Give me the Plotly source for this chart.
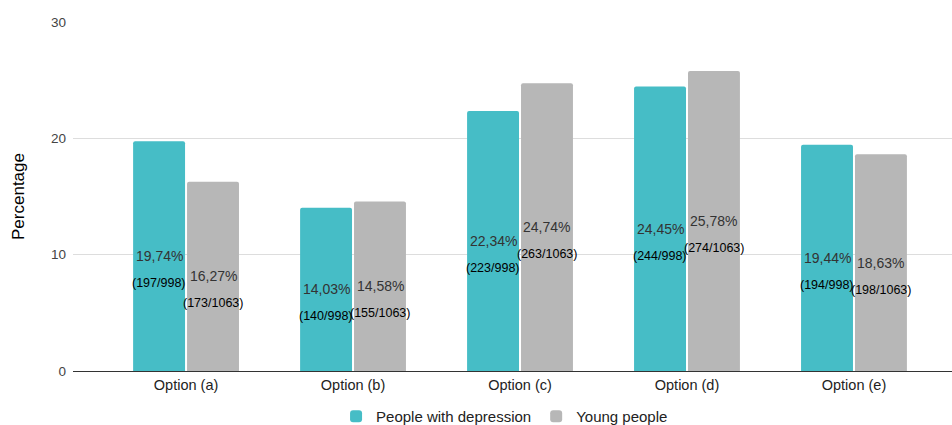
import plotly.graph_objects as go

categories = ["Option (a)", "Option (b)", "Option (c)", "Option (d)", "Option (e)"]
depression_pct = [19.74, 14.03, 22.34, 24.45, 19.44]
young_pct = [16.27, 14.58, 24.74, 25.78, 18.63]
depression_counts = ["(197/998)", "(140/998)", "(223/998)", "(244/998)", "(194/998)"]
young_counts = ["(173/1063)", "(155/1063)", "(263/1063)", "(274/1063)", "(198/1063)"]
y_ticks = [0, 10, 20, 30]

TEAL = "#46BDC6"
GREY = "#B7B7B7"
FONT = "Arial, Liberation Sans, sans-serif"
BAR_W = 0.311
GAP = 0.006

xs = list(range(len(categories)))

fig = go.Figure()
fig.add_trace(go.Bar(
    x=xs, y=depression_pct, name="People with depression",
    marker=dict(color=TEAL, line=dict(width=0), cornerradius=2),
    width=BAR_W, offset=-BAR_W - GAP, hoverinfo="skip",
))
fig.add_trace(go.Bar(
    x=xs, y=young_pct, name="Young people",
    marker=dict(color=GREY, line=dict(width=0), cornerradius=2),
    width=BAR_W, offset=GAP, hoverinfo="skip",
))


def fmt(v):
    return f"{v:.2f}".replace(".", ",") + "%"


annotations = []
for i in xs:
    for vals, counts, sign in ((depression_pct, depression_counts, -1),
                               (young_pct, young_counts, 1)):
        v = vals[i]
        cx = i + sign * (BAR_W / 2 + GAP)
        annotations.append(dict(
            x=cx, y=v / 2, xref="x", yref="y", text=fmt(v), showarrow=False,
            font=dict(family=FONT, size=14, color="#333333"),
        ))
        annotations.append(dict(
            x=cx, y=v / 2, xref="x", yref="y", text=counts[i], showarrow=False,
            yshift=-27, font=dict(family=FONT, size=12.5, color="#000000"),
        ))

fig.update_layout(
    width=952, height=425,
    margin=dict(l=73, r=0, t=22, b=54),
    plot_bgcolor="white", paper_bgcolor="white",
    barmode="overlay",
    font=dict(family=FONT, color="#333333"),
    showlegend=True,
    legend=dict(
        orientation="h", x=0.53, xanchor="center", xref="container",
        y=0.02, yanchor="middle", yref="container",
        font=dict(family=FONT, size=15, color="#222222"),
        itemwidth=30, traceorder="normal", tracegroupgap=0,
    ),
    annotations=annotations,
)
fig.update_xaxes(
    range=[-0.677, 4.587],
    tickvals=xs, ticktext=categories,
    tickfont=dict(family=FONT, size=14.5, color="#222222"),
    showgrid=False, ticks="", showline=False, zeroline=False,
    ticklabelstandoff=3,
)
fig.update_yaxes(
    range=[0, 30], tickvals=y_ticks,
    tickfont=dict(family=FONT, size=13.5, color="#444444"),
    showgrid=True, gridcolor="#DDDDDD", gridwidth=1,
    zeroline=True, zerolinecolor="#333333", zerolinewidth=1,
    title=dict(text="Percentage", font=dict(family=FONT, size=17, color="#000000"), standoff=22),
    ticklabelstandoff=6,
)

fig.write_html("out.html")
